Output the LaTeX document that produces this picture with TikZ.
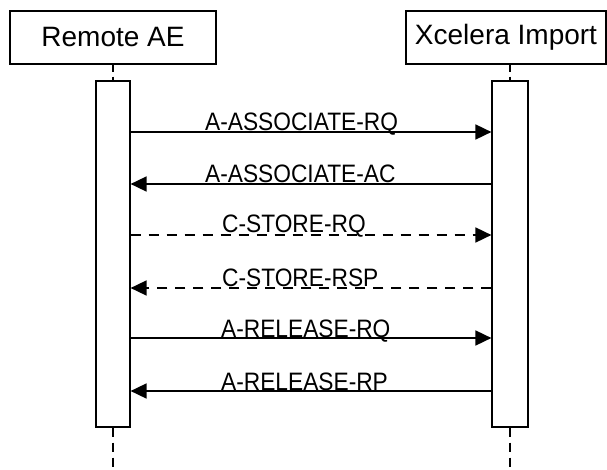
\documentclass[tikz,border=0pt]{standalone}
\usepackage{fontspec}
\setmainfont{Liberation Sans}
\usetikzlibrary{arrows.meta}
\newcommand{\tallt}[1]{\scalebox{1.01}[1.12]{#1}}
\begin{document}
\begin{tikzpicture}[x=1pt,y=-1pt,
  hdr/.style={draw,line width=1.2pt,minimum width=206pt,minimum height=53pt,inner sep=0pt,font=\fontsize{28}{32}\selectfont},
  actbox/.style={draw,line width=1.2pt,minimum width=34pt,minimum height=346pt,inner sep=0pt},
  life/.style={line width=1.2pt,dash pattern=on 7pt off 5pt},
  lifelow/.style={line width=1.2pt,dash pattern=on 9pt off 6pt},
  msg/.style={line width=1.7pt,-{Triangle[length=16pt,width=15pt]}},
  rsp/.style={msg,dash pattern=on 10pt off 8pt},
  lbl/.style={anchor=base west,inner sep=0pt,font=\fontsize{22.5}{26}\selectfont}]
\useasboundingbox (0,0) rectangle (607,470);
% headers
\node[hdr] (ae) at (113,37.5) {Remote AE};
\node[hdr,minimum width=200pt] (xi) at (506,37.5) {Xcelera Import};
% activation boxes
\node[actbox] (aL) at (113,254) {};
\node[actbox,minimum width=36pt] (aR) at (510,254) {};
% lifelines
\coordinate (bL) at (113,470);
\coordinate (bR) at (510,470);
\draw[life] (ae.south) -- (aL.north);
\draw[life] (xi.south -| aR.north) -- (aR.north);
\draw[lifelow] (aL.south) -- (bL);
\draw[lifelow] (aR.south) -- (bR);
% message end points
\coordinate (L1) at (aL.east |- 0,132);  \coordinate (R1) at (aR.west |- 0,132);
\coordinate (L2) at (aL.east |- 0,184);  \coordinate (R2) at (aR.west |- 0,184);
\coordinate (L3) at (aL.east |- 0,235);  \coordinate (R3) at (aR.west |- 0,235);
\coordinate (L4) at (aL.east |- 0,288);  \coordinate (R4) at (aR.west |- 0,288);
\coordinate (L5) at (aL.east |- 0,338);  \coordinate (R5) at (aR.west |- 0,338);
\coordinate (L6) at (aL.east |- 0,391);  \coordinate (R6) at (aR.west |- 0,391);
% messages
\draw[msg] (L1) -- (R1);
\draw[msg] (R2) -- (L2);
\draw[rsp] (L3) -- (R3);
\draw[rsp] (R4) -- (L4);
\draw[msg] (L5) -- (R5);
\draw[msg] (R6) -- (L6);
% labels
\node[lbl] (t1) at (205,131) {\tallt{A-ASSOCIATE-RQ}};
\node[lbl] (t2) at (205,183) {\tallt{A-ASSOCIATE-AC}};
\node[lbl] (t3) at (222,233) {\tallt{C-STORE-RQ}};
\node[lbl] (t4) at (222,286) {\tallt{C-STORE-RSP}};
\node[lbl] (t5) at (221,337) {\tallt{A-RELEASE-RQ}};
\node[lbl] (t6) at (221,390) {\tallt{A-RELEASE-RP}};
\end{tikzpicture}
\end{document}
